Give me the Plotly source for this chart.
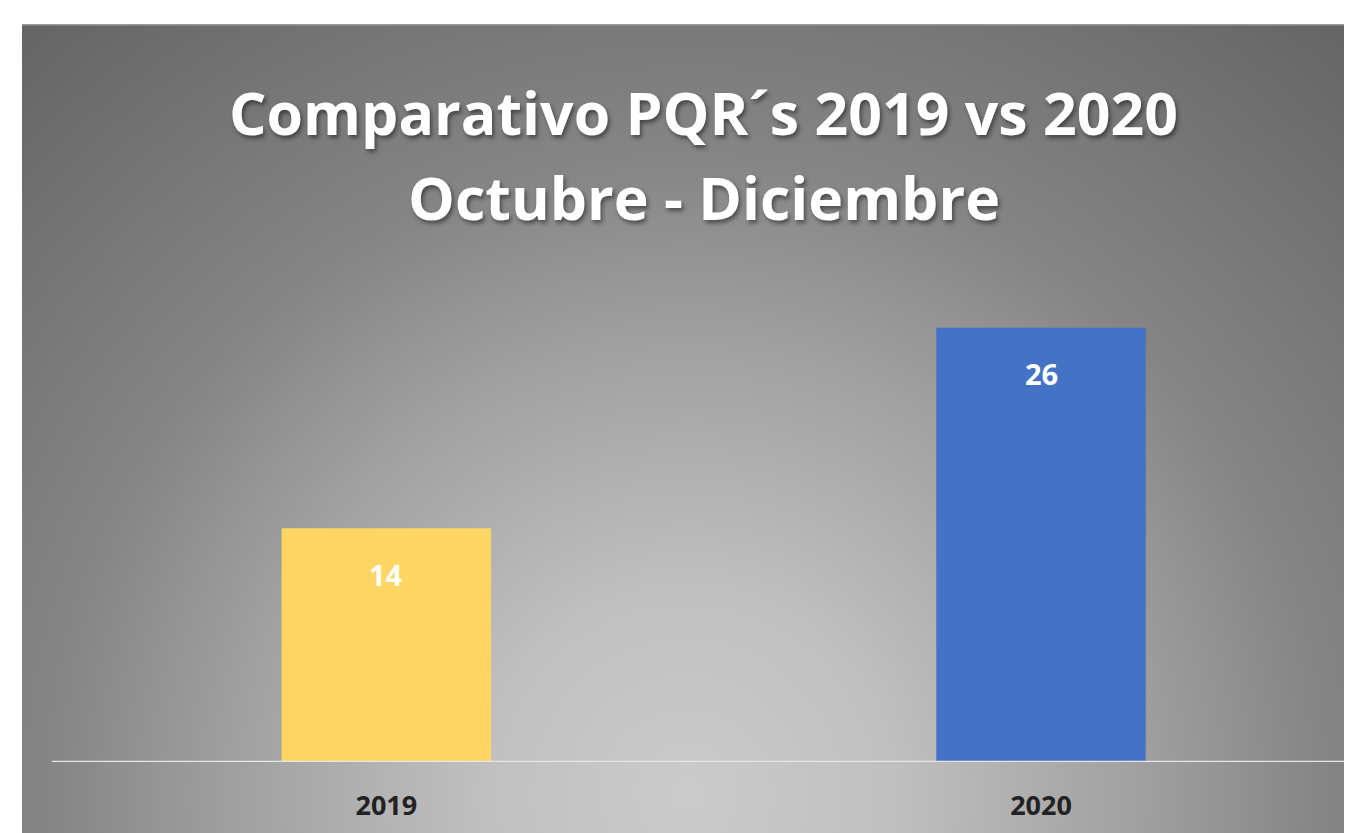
import base64
import plotly.graph_objects as go

categories = ["2019", "2020"]
values = [14, 26]
bar_colors = ["#FDD663", "#4472C4"]
title_line1 = "Comparativo PQR´s 2019 vs 2020"
title_line2 = "Octubre - Diciembre"

OFF = 8  # page body margin
W, H = 1352 - OFF, 833 - OFF
PL, PR, PT, PB = 59, 1352, 261, 762  # plot area in page pixels
L, R, T, B = PL - OFF, 0, PT - OFF, H - (PB - OFF)
pw, ph = W - L - R, H - T - B

svg = """<svg xmlns='http://www.w3.org/2000/svg' width='1330' height='809' viewBox='0 0 1330 809'>
<defs><radialGradient id='g' gradientUnits='userSpaceOnUse' cx='665' cy='770' r='1010'>
<stop offset='0' stop-color='#cbcbcb'/>
<stop offset='0.2' stop-color='#c0c0c0'/>
<stop offset='0.45' stop-color='#a0a0a0'/>
<stop offset='0.63' stop-color='#858585'/>
<stop offset='1' stop-color='#656565'/>
</radialGradient></defs>
<rect x='0' y='0' width='1330' height='809' fill='url(#g)'/>
<rect x='0' y='0' width='1330' height='1.5' fill='#9a9a9a'/>
</svg>"""
src = "data:image/svg+xml;base64," + base64.b64encode(svg.encode()).decode()

def px_x(x):
    return (x - PL) / pw

def px_y(y):
    return (PB - y) / ph

fig = go.Figure()
fig.add_trace(go.Bar(
    x=categories, y=values, marker=dict(color=bar_colors, line=dict(width=0)),
    width=0.32, hoverinfo="skip",
))

for i, v in enumerate(values):
    fig.add_annotation(x=i, y=v, text=str(v), showarrow=False, yanchor="middle", yshift=-46,
                       font=dict(family="Open Sans", size=29, color="white", weight="bold"))

shadow = "2px 3px 4px rgba(0,0,0,0.45)"
fig.add_annotation(xref="paper", yref="paper", x=px_x(703), y=px_y(112), text=title_line1,
                   showarrow=False, xanchor="center", yanchor="middle",
                   font=dict(family="Open Sans", size=59, color="white", weight="bold", shadow=shadow))
fig.add_annotation(xref="paper", yref="paper", x=px_x(704), y=px_y(197), text=title_line2,
                   showarrow=False, xanchor="center", yanchor="middle",
                   font=dict(family="Open Sans", size=59, color="white", weight="bold", shadow=shadow))

fig.add_shape(type="line", xref="paper", yref="y", x0=px_x(52), x1=1, y0=0, y1=0,
              line=dict(color="#e6e6e6", width=2.5), layer="above")

fig.update_layout(
    width=W, height=H,
    margin=dict(l=L, r=R, t=T, b=B, pad=0),
    paper_bgcolor="white", plot_bgcolor="rgba(0,0,0,0)",
    showlegend=False,
    images=[dict(source=src, xref="paper", yref="paper", x=px_x(22), y=px_y(24),
                 sizex=1330 / pw, sizey=809 / ph, xanchor="left", yanchor="top",
                 sizing="stretch", layer="below")],
    xaxis=dict(type="category", range=[-0.5, 1.475], showgrid=False, zeroline=False,
               showline=False, ticks="", ticklabelstandoff=25,
               tickfont=dict(family="Open Sans", size=27, color="#222222", weight="bold")),
    yaxis=dict(range=[0, 30], showgrid=False, zeroline=False, showline=False,
               showticklabels=False, ticks=""),
)

fig.write_html("out.html")
